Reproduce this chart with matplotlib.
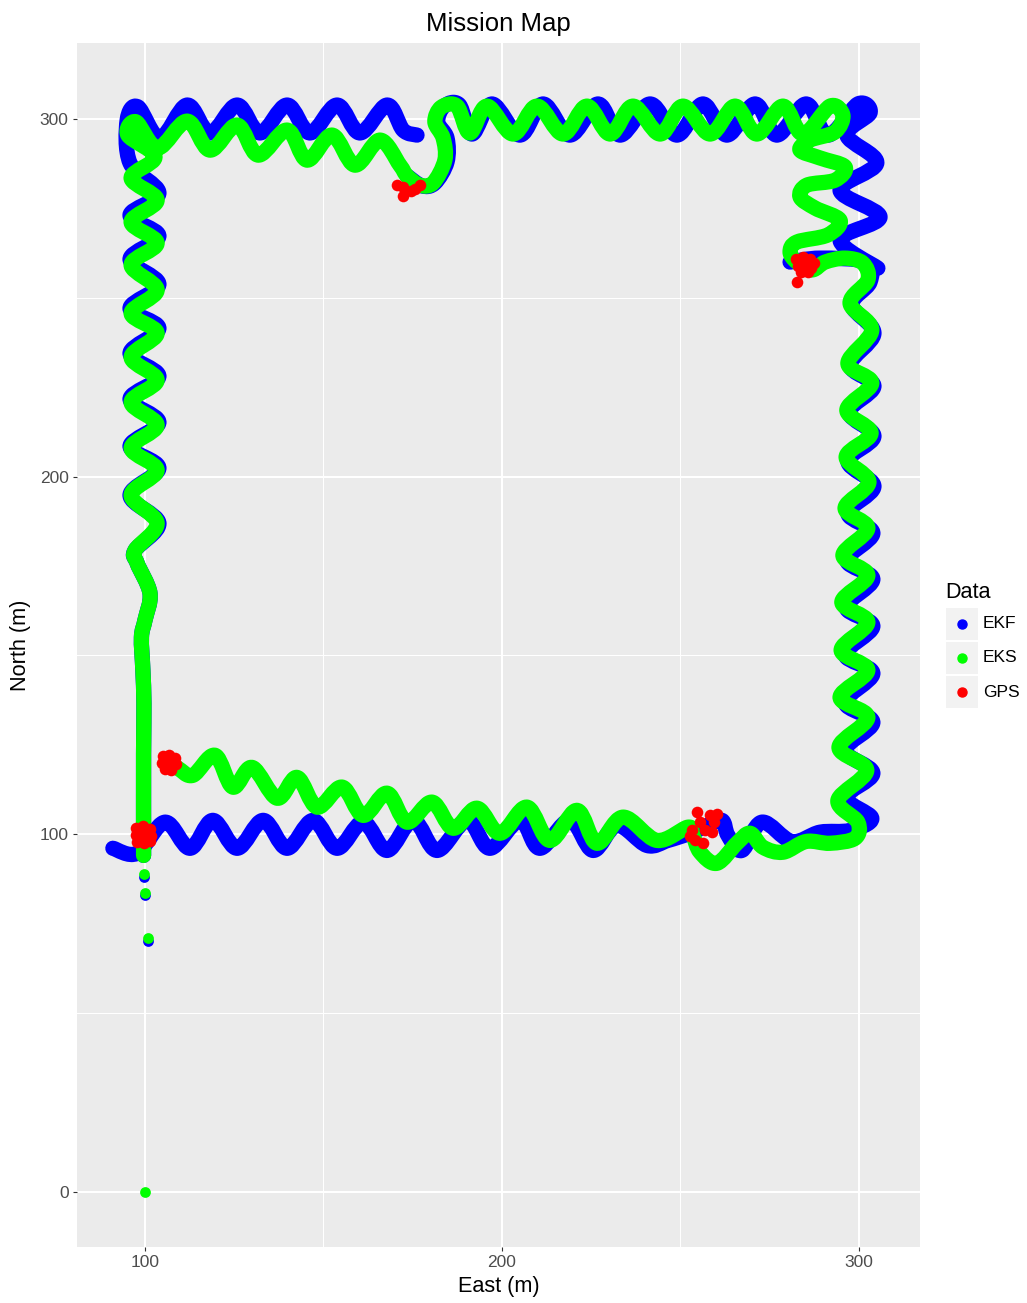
import numpy as np
import matplotlib
matplotlib.use("Agg")
import matplotlib.pyplot as plt
from matplotlib.patches import Rectangle, PathPatch
from matplotlib.lines import Line2D
from matplotlib.path import Path

plt.rcParams['font.family'] = ['Liberation Sans', 'DejaVu Sans']

# ---- data (East / North in metres) ----
# EKS: single dots at the start of the run
eks_dots_x = [100.0, 100.8, 100.0, 99.6]
eks_dots_y = [0.0, 70.9, 83.6, 89.0]
ekf_dots_x = [100.9, 100.1, 99.6]
ekf_dots_y = [70.3, 83.0, 88.2]

# EKS track, in order of travel (turning points of the weave)
eks_x = [99.6, 99.6, 99.7, 99.4, 99.0, 100.0, 101.4, 97.8, 97.2, 103.4,
         96.1, 103.4, 96.1, 103.4, 96.1, 103.4, 96.1, 103.4, 96.1, 103.4,
         96.1, 103.4, 96.1, 103.4, 96.1, 102.8, 95.2, 97.5, 103.6,
         111.8, 118.2, 125.8, 131.7, 139.8, 145.4, 152.4, 158.8, 165.8,
         171.4, 173.4, 177.0, 180.7, 184.0, 183.5, 181.2, 183.0, 187.4, 191.0,
         195.8, 203.1, 209.8, 217.1, 223.8, 230.3, 236.7, 244.3, 250.7, 258.3,
         265.3, 271.4, 278.7, 284.3, 291.9,
         295.5, 293.3, 286.3, 283.5, 289.1, 296.1, 293.3, 285.4, 283.5, 287.7,
         294.7, 291.3, 282.6, 280.7, 282.6,
         286.8, 290.5, 296.1, 301.1, 302.5, 297.5,
         303.6, 296.9, 303.6, 296.6, 303.4, 296.4, 302.8, 296.1, 302.5, 295.5,
         302.5, 295.2, 302.5, 295.0, 302.5, 294.7, 302.5, 294.4, 302.2, 294.1,
         299.7, 298.9, 291.9, 285.2, 278.7, 273.1, 269.5, 265.8, 260.2, 255.5,
         253.5, 252.1, 243.4, 233.9, 226.6, 221.0, 213.4, 207.0, 199.4, 193.0,
         186.3, 180.4, 173.4, 167.8, 161.1, 155.2, 148.2, 142.6, 137.0, 130.0,
         124.6, 119.6, 113.4, 109.2, 106.4]
eks_y = [94.1, 122.7, 136.6, 145.9, 155.1, 159.9, 167.4, 175.8, 179.4, 187.0,
         194.8, 201.8, 208.0, 214.4, 220.8, 227.0, 233.4, 240.1, 245.7, 252.2,
         259.2, 265.3, 271.2, 277.3, 283.5, 289.4, 295.5, 299.2, 291.9,
         299.4, 291.3, 298.3, 289.9, 296.9, 288.5, 295.5, 287.1, 294.1,
         287.1, 284.1, 281.5, 282.1, 288.5, 294.7, 299.2, 303.3, 303.6, 296.1,
         303.6, 295.8, 303.6, 295.8, 303.6, 295.8, 303.6, 295.8, 303.6, 295.8,
         303.6, 295.8, 303.6, 295.8, 303.6,
         301.1, 296.4, 294.1, 291.3, 289.1, 286.6, 282.9, 281.5, 278.2, 275.1,
         271.7, 267.6, 265.6, 262.8, 260.0,
         257.8, 260.0, 261.1, 259.7, 255.0, 248.5,
         241.0, 231.7, 226.2, 218.6, 212.2, 205.5, 198.5, 191.2, 185.6, 178.0,
         172.4, 164.9, 159.3, 151.5, 145.9, 138.3, 132.7, 124.3, 117.9, 109.5,
         103.4, 98.9, 97.5, 98.0, 95.0, 96.4, 100.3, 97.5, 91.9, 95.0,
         99.7, 102.0, 98.3, 104.8, 97.5, 106.7, 98.3, 107.6, 100.3, 107.3,
         101.7, 109.0, 103.4, 111.5, 105.3, 113.2, 107.6, 115.9, 110.1, 118.7,
         113.2, 122.1, 116.5, 118.5, 120.1]

# EKF track, three pieces (filter jumps back at GPS fixes)
ekf_west_x = [99.6, 99.6, 99.7, 99.4, 99.0, 100.0, 101.4, 97.8, 97.2, 103.9,
              95.8, 103.9, 95.8, 103.9, 95.8, 103.9, 95.8, 103.9, 95.8, 103.9,
              95.8, 103.9, 95.8, 103.9, 95.8, 95.0, 98.0, 104.2,
              111.8, 118.2, 125.8, 132.2, 139.8, 146.2, 153.8, 160.2, 167.8,
              172.3, 176.2]
ekf_west_y = [94.1, 122.7, 136.6, 145.9, 155.1, 159.9, 167.4, 175.8, 179.4, 187.0,
              194.8, 202.4, 208.5, 215.2, 221.7, 228.1, 234.5, 241.5, 247.1, 253.8,
              260.8, 267.3, 273.1, 279.3, 287.7, 299.7, 303.4, 294.7,
              303.9, 296.1, 303.9, 296.1, 303.9, 296.1, 303.9, 296.1, 303.9,
              296.9, 295.5]

ekf_north_x = [173.4, 177.6, 181.2, 184.6, 184.6, 182.0, 183.8, 188.0, 191.6,
               197.2, 205.0, 211.5, 219.0, 226.9, 233.1, 241.5, 249.0, 256.3,
               263.0, 270.9, 277.0, 285.2, 291.3, 299.7,
               303.1, 296.6, 305.0, 294.7, 305.9, 294.7, 305.3]
ekf_north_y = [284.1, 281.3, 282.1, 288.0, 294.7, 299.2, 303.6, 304.0, 295.8,
               304.2, 295.5, 304.2, 295.5, 304.2, 295.5, 304.2, 295.5, 304.2,
               295.5, 304.2, 295.5, 304.2, 295.5, 304.2,
               301.7, 295.5, 287.7, 280.1, 272.6, 266.2, 258.3]

ekf_east_x = [280.7, 289.1, 302.0, 303.1, 298.0,
              304.2, 297.5, 304.2, 297.2, 304.2, 296.9, 304.2, 296.9, 303.9, 296.6,
              303.9, 296.4, 303.9, 296.1, 303.9, 296.1, 303.9, 296.1, 303.9, 296.4,
              303.6, 297.5, 289.1, 281.2, 272.8, 267.2, 263.3, 261.6, 256.9, 252.7,
              246.5, 240.6, 232.2, 225.5, 219.0, 210.6, 205.0, 196.6, 190.2, 181.8,
              175.1, 167.8, 161.1, 153.8, 147.1, 139.8, 133.1, 125.8, 119.0, 112.6,
              105.6, 97.8, 91.0]
ekf_east_y = [260.0, 261.1, 260.0, 254.4, 248.0,
              240.1, 231.2, 225.3, 218.0, 211.3, 204.3, 197.3, 189.8, 184.2, 176.6,
              171.3, 163.5, 158.2, 150.3, 145.0, 136.9, 131.3, 123.5, 117.1, 110.3,
              104.5, 101.1, 100.6, 98.0, 103.4, 95.5, 99.7, 103.9, 102.2, 100.3,
              98.3, 96.9, 102.5, 95.5, 103.9, 96.1, 103.9, 96.1, 103.9, 95.5,
              103.9, 95.5, 103.4, 96.1, 103.9, 96.1, 103.9, 96.1, 103.9, 96.1,
              103.4, 94.7, 96.1]

# GPS fixes
gps_x = [97.6, 99.5, 101.4, 97.4, 99.6, 101.6, 97.8, 99.8, 101.3, 98.6,
         105.0, 106.8, 108.4, 104.8, 106.6, 108.6, 105.6, 107.4, 106.0,
         170.6, 172.3, 175.6, 177.0, 172.3, 174.5,
         282.5, 284.3, 286.3, 287.5, 282.8, 284.8, 286.7, 283.8, 285.6, 282.6,
         254.6, 258.3, 259.4, 255.5, 253.2, 256.9, 258.8, 254.1, 256.3, 252.7, 260.2]
gps_y = [101.8, 102.3, 101.6, 99.8, 100.0, 99.5, 97.8, 97.6, 98.2, 100.8,
         121.8, 122.3, 121.4, 119.9, 120.2, 119.6, 118.3, 118.0, 121.0,
         281.5, 281.0, 280.4, 281.5, 278.5, 279.9,
         260.8, 261.4, 260.9, 259.8, 258.8, 259.0, 258.4, 257.2, 257.3, 254.3,
         106.3, 105.4, 103.4, 103.4, 101.1, 101.1, 100.6, 98.3, 97.5, 99.5, 105.7]

series_names = ['EKF', 'EKS', 'GPS']
series_colors = ['#0000FF', '#00FF00', '#FF0000']


def smooth_track(xs, ys):
    # Catmull-Rom through the turning points, handed to matplotlib as bezier segments
    pts = np.column_stack([xs, ys])
    ext = np.vstack([pts[0], pts, pts[-1]])
    verts = [pts[0]]
    codes = [Path.MOVETO]
    for i in range(len(pts) - 1):
        p0, p1, p2, p3 = ext[i], ext[i + 1], ext[i + 2], ext[i + 3]
        verts += [p1 + (p2 - p0) / 6, p2 - (p3 - p1) / 6, p2]
        codes += [Path.CURVE4] * 3
    return Path(verts, codes)


def draw_track(ax, xs, ys, color, z):
    ax.add_patch(PathPatch(smooth_track(xs, ys), facecolor='none', edgecolor=color,
                           lw=11, capstyle='round', joinstyle='round', zorder=z))


# ---- figure ----
fig = plt.figure(figsize=(10.27, 13.03), dpi=100)
ax = fig.add_axes([77 / 1027, 1 - 1247 / 1303, 843 / 1027, 1204 / 1303])
ax.set_facecolor('#EBEBEB')
for s in ax.spines.values():
    s.set_visible(False)

blue, green, red = series_colors
for xs, ys in [(ekf_west_x, ekf_west_y), (ekf_north_x, ekf_north_y), (ekf_east_x, ekf_east_y)]:
    draw_track(ax, xs, ys, blue, 3)
ax.scatter(ekf_dots_x, ekf_dots_y, s=60, color=blue, lw=0, zorder=3)
draw_track(ax, eks_x, eks_y, green, 4)
ax.scatter(eks_dots_x, eks_dots_y, s=60, color=green, lw=0, zorder=4)
ax.scatter(gps_x, gps_y, s=70, color=red, lw=0, zorder=5)

ax.set_xlim(80.95, 317.1)
ax.set_ylim(-15.38, 321.25)
ax.set_xticks([100, 200, 300])
ax.set_yticks([0, 100, 200, 300])
ax.set_xticks([150, 250], minor=True)
ax.set_yticks([50, 150, 250], minor=True)
ax.grid(which='major', color='white', lw=1.5)
ax.grid(which='minor', color='white', lw=0.75)
ax.set_axisbelow(True)
ax.tick_params(which='major', length=3, width=0.8, color='#333333',
               labelcolor='#4D4D4D', labelsize=12.5, pad=3)
ax.tick_params(which='minor', length=0)

ax.set_title('Mission Map', fontsize=18.5, pad=9)
ax.set_xlabel('East (m)', fontsize=15.6, labelpad=4)
ax.set_ylabel('North (m)', fontsize=15.6, labelpad=6)

# ---- legend drawn at the right, ggplot style ----
fig.text(945 / 1027, 1 - 592 / 1303, 'Data', fontsize=15.6, ha='left', va='center')
for i, (name, col) in enumerate(zip(series_names, series_colors)):
    top = 608 + 34 * i
    fig.add_artist(Rectangle((946 / 1027, 1 - (top + 32) / 1303), 32 / 1027, 32 / 1303,
                             transform=fig.transFigure, facecolor='#F2F2F2',
                             edgecolor='white', lw=0))
    fig.add_artist(Line2D([962 / 1027], [1 - (top + 16) / 1303], marker='o',
                          markersize=6.5, color=col, transform=fig.transFigure))
    fig.text(983 / 1027, 1 - (top + 16) / 1303, name, fontsize=12.5,
             ha='left', va='center')

fig.savefig('out.png', dpi=100)
